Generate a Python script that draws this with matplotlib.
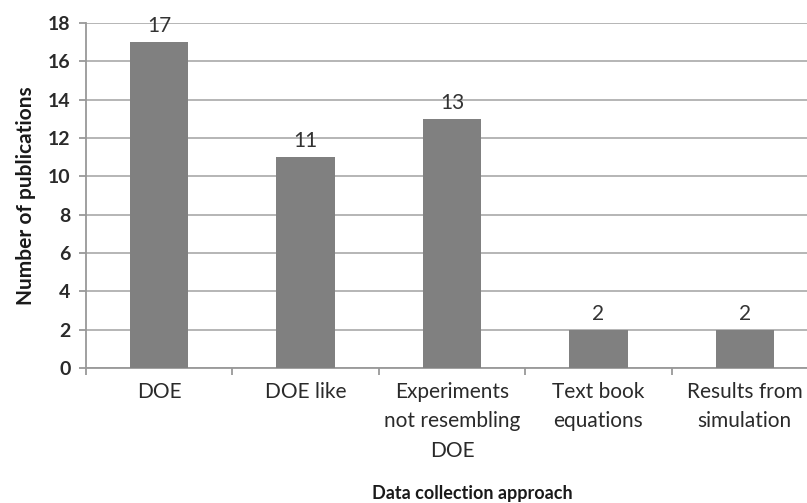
import matplotlib
matplotlib.use("Agg")
import matplotlib.pyplot as plt
import numpy as np

categories = ["DOE", "DOE like", "Experiments\nnot resembling\nDOE",
              "Text book\nequations", "Results from\nsimulation"]
publications = [17, 11, 13, 2, 2]
y_ticks = [0, 2, 4, 6, 8, 10, 12, 14, 16, 18]

plt.rcParams['font.family'] = ['Lato', 'DejaVu Sans']

fig = plt.figure(figsize=(8.07, 5.03), dpi=100)
# axes run off the right edge on purpose, last category is clipped
ax = fig.add_axes([86 / 807, 135 / 503, 732 / 807, 345 / 503])

x = np.arange(len(categories))
bars = ax.bar(x, publications, width=0.4, color='#808080', zorder=3)
for b, v in zip(bars, publications):
    ax.text(b.get_x() + b.get_width() / 2, v + 0.3, str(v),
            ha='center', va='bottom', fontsize=15, color='#333333')

ax.set_xlim(-0.5, len(categories) - 0.5)
ax.set_ylim(0, 18)
ax.set_yticks(y_ticks)
ax.yaxis.grid(True, color='#b0b0b0', linewidth=1.3, zorder=0)

ax.set_xticks(x)
ax.set_xticklabels(categories, fontsize=15, color='#2a2a2a', linespacing=1.6)
ax.set_xticks(np.arange(-0.5, len(categories)), minor=True)
ax.tick_params(axis='x', which='major', length=0, pad=10)
ax.tick_params(axis='x', which='minor', length=5, color='#999999', width=1.3)
ax.tick_params(axis='y', length=5, color='#999999', width=1.3,
               labelsize=14, labelcolor='#2a2a2a', pad=6)
for lbl in ax.get_yticklabels():
    lbl.set_fontweight('bold')

for s in ['top', 'right']:
    ax.spines[s].set_visible(False)
for s in ['left', 'bottom']:
    ax.spines[s].set_color('#999999')
    ax.spines[s].set_linewidth(1.3)

ax.set_ylabel("Number of publications", fontsize=15, fontweight='bold',
              color='#1a1a1a', labelpad=9)
fig.text(472 / 807, 1 - 493 / 503, "Data collection approach", fontsize=13,
         fontweight='bold', color='#1a1a1a', ha='center', va='center')

fig.savefig("out.png", dpi=100)
